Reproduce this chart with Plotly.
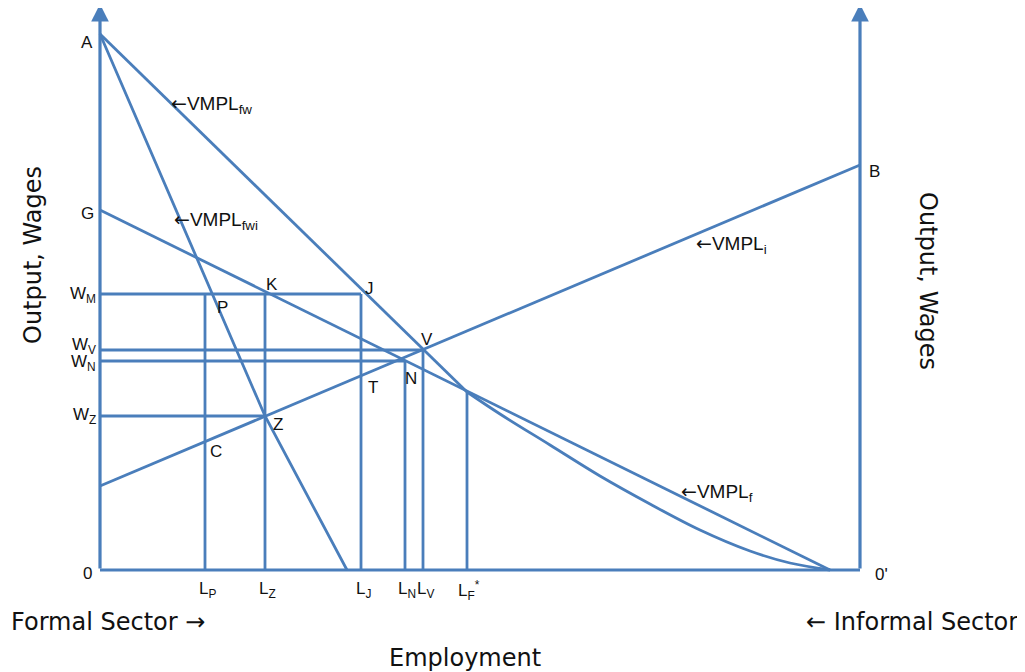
import plotly.graph_objects as go

# ---- data (employment units along x from formal origin 0, wage units on y) ----
axis_left_x = 0
axis_right_x = 760
axis_top = 566

# VMPL_fw : straight from A to the L_F* point, then curving down to 0'
fw_line_x = [0, 367]
fw_line_y = [536, 178]
fw_curve_x = [367, 400, 450, 500, 550, 600, 650, 690, 730]
fw_curve_y = [178, 156, 125, 94, 66, 40, 19, 7, 0]

# VMPL_fwi : A -> Z -> axis
fwi_x = [0, 165, 247]
fwi_y = [536, 154, 0]

# VMPL_f : G -> 0'
f_x = [0, 730]
f_y = [360, 0]

# VMPL_i : from left axis up to B
i_x = [0, 760]
i_y = [84, 405]

# wage levels and where their horizontal lines end
wage_names = ["W<sub>M</sub>", "W<sub>V</sub>", "W<sub>N</sub>", "W<sub>Z</sub>"]
wage_levels = [276, 220, 209, 154]
wage_ends = [261, 323, 305, 165]

# employment levels and the height of their vertical lines
emp_names = ["L<sub>P</sub>", "L<sub>Z</sub>", "L<sub>J</sub>", "L<sub>N</sub>", "L<sub>V</sub>", "L<sub>F</sub><sup>*</sup>"]
emp_levels = [105, 165, 261, 305, 323, 367]
emp_tops = [276, 276, 276, 209, 220, 179]

# point labels
pt_names = ["A", "G", "B", "0", "0'", "P", "K", "J", "V", "N", "T", "Z", "C"]

# curve labels
curve_names = ["VMPL<sub>fw</sub>", "VMPL<sub>fwi</sub>", "VMPL<sub>i</sub>", "VMPL<sub>f</sub>"]

BLUE = "#4a7ebb"
LW = 2.8
FONT = "Liberation Sans, Arial, sans-serif"
BIGFONT = "DejaVu Sans, sans-serif"
ARROW_L = '<span style="font-family:DejaVu Sans">←</span>'
ARROW_R = '<span style="font-family:DejaVu Sans">→</span>'

# label placement (annotation anchor positions in axis units)
pt_pos = [(-13, 528), (-13, 357), (774, 399), (-13, -3), (781, -4), (122, 263), (172, 286),
          (269, 282), (327, 231), (311, 192), (273, 183), (178, 146), (116, 119)]
wage_label_dy = [-1, 4, -2, 0]
curve_pos = [(69, 466), (72, 350), (594, 326), (579, 78)]

fig = go.Figure()

def add_line(xs, ys, shape="linear", width=LW):
    fig.add_trace(go.Scatter(x=xs, y=ys, mode="lines", line=dict(color=BLUE, width=width, shape=shape),
                             hoverinfo="skip", showlegend=False))

add_line([axis_left_x, axis_right_x], [0, 0], width=3.2)
add_line(fw_line_x, fw_line_y)
add_line(fw_curve_x, fw_curve_y, shape="spline")
add_line(fwi_x, fwi_y)
add_line(f_x, f_y)
add_line(i_x, i_y)
for lvl, end in zip(wage_levels, wage_ends):
    add_line([axis_left_x, end], [lvl, lvl])
for lvl, top in zip(emp_levels, emp_tops):
    add_line([lvl, lvl], [0, top])

# vertical axes with arrowheads
for ax_x in [axis_left_x, axis_right_x]:
    fig.add_annotation(x=ax_x, y=axis_top, ax=ax_x, ay=0, xref="x", yref="y", axref="x", ayref="y",
                       showarrow=True, arrowhead=2, arrowsize=1.1, arrowwidth=3.2, arrowcolor=BLUE, text="")

txt = dict(family=FONT, size=17, color="#111111")
for n, (x, y) in zip(pt_names, pt_pos):
    fig.add_annotation(x=x, y=y, text=n, showarrow=False, font=txt, xanchor="center", yanchor="middle")
for n, y, dy in zip(wage_names, wage_levels, wage_label_dy):
    fig.add_annotation(x=-2, y=y + dy, text=n, showarrow=False, font=txt, xanchor="right", yanchor="middle")
for n, x in zip(emp_names, emp_levels):
    fig.add_annotation(x=x + 2, y=-20, text=n, showarrow=False, font=txt, xanchor="center", yanchor="middle")
ctxt = dict(family=FONT, size=19, color="#111111")
for n, (x, y) in zip(curve_names, curve_pos):
    fig.add_annotation(x=x, y=y, text=ARROW_L + n, showarrow=False, font=ctxt, xanchor="left", yanchor="middle")

big = dict(family=BIGFONT, size=24, color="#111111")
fig.add_annotation(x=-67, y=315, text="Output, Wages", textangle=-90, showarrow=False, font=big)
fig.add_annotation(x=828, y=289, text="Output, Wages", textangle=90, showarrow=False, font=big)
fig.add_annotation(x=-91, y=-52, text="Formal Sector " + ARROW_R, showarrow=False, font=big, xanchor="left")
fig.add_annotation(x=920, y=-52, text=ARROW_L + " Informal Sector", showarrow=False, font=big, xanchor="right")
fig.add_annotation(x=365, y=-88, text="Employment", showarrow=False, font=big)

# page body has an 8px margin: size and ranges compensate so the drawing lands where the reference has it
fig.update_layout(width=1017, height=664, margin=dict(l=0, r=0, t=0, b=0),
                  plot_bgcolor="white", paper_bgcolor="white",
                  xaxis=dict(range=[-92, 925], visible=False, fixedrange=True),
                  yaxis=dict(range=[-102, 562], visible=False, fixedrange=True))

fig.write_html("out.html")
